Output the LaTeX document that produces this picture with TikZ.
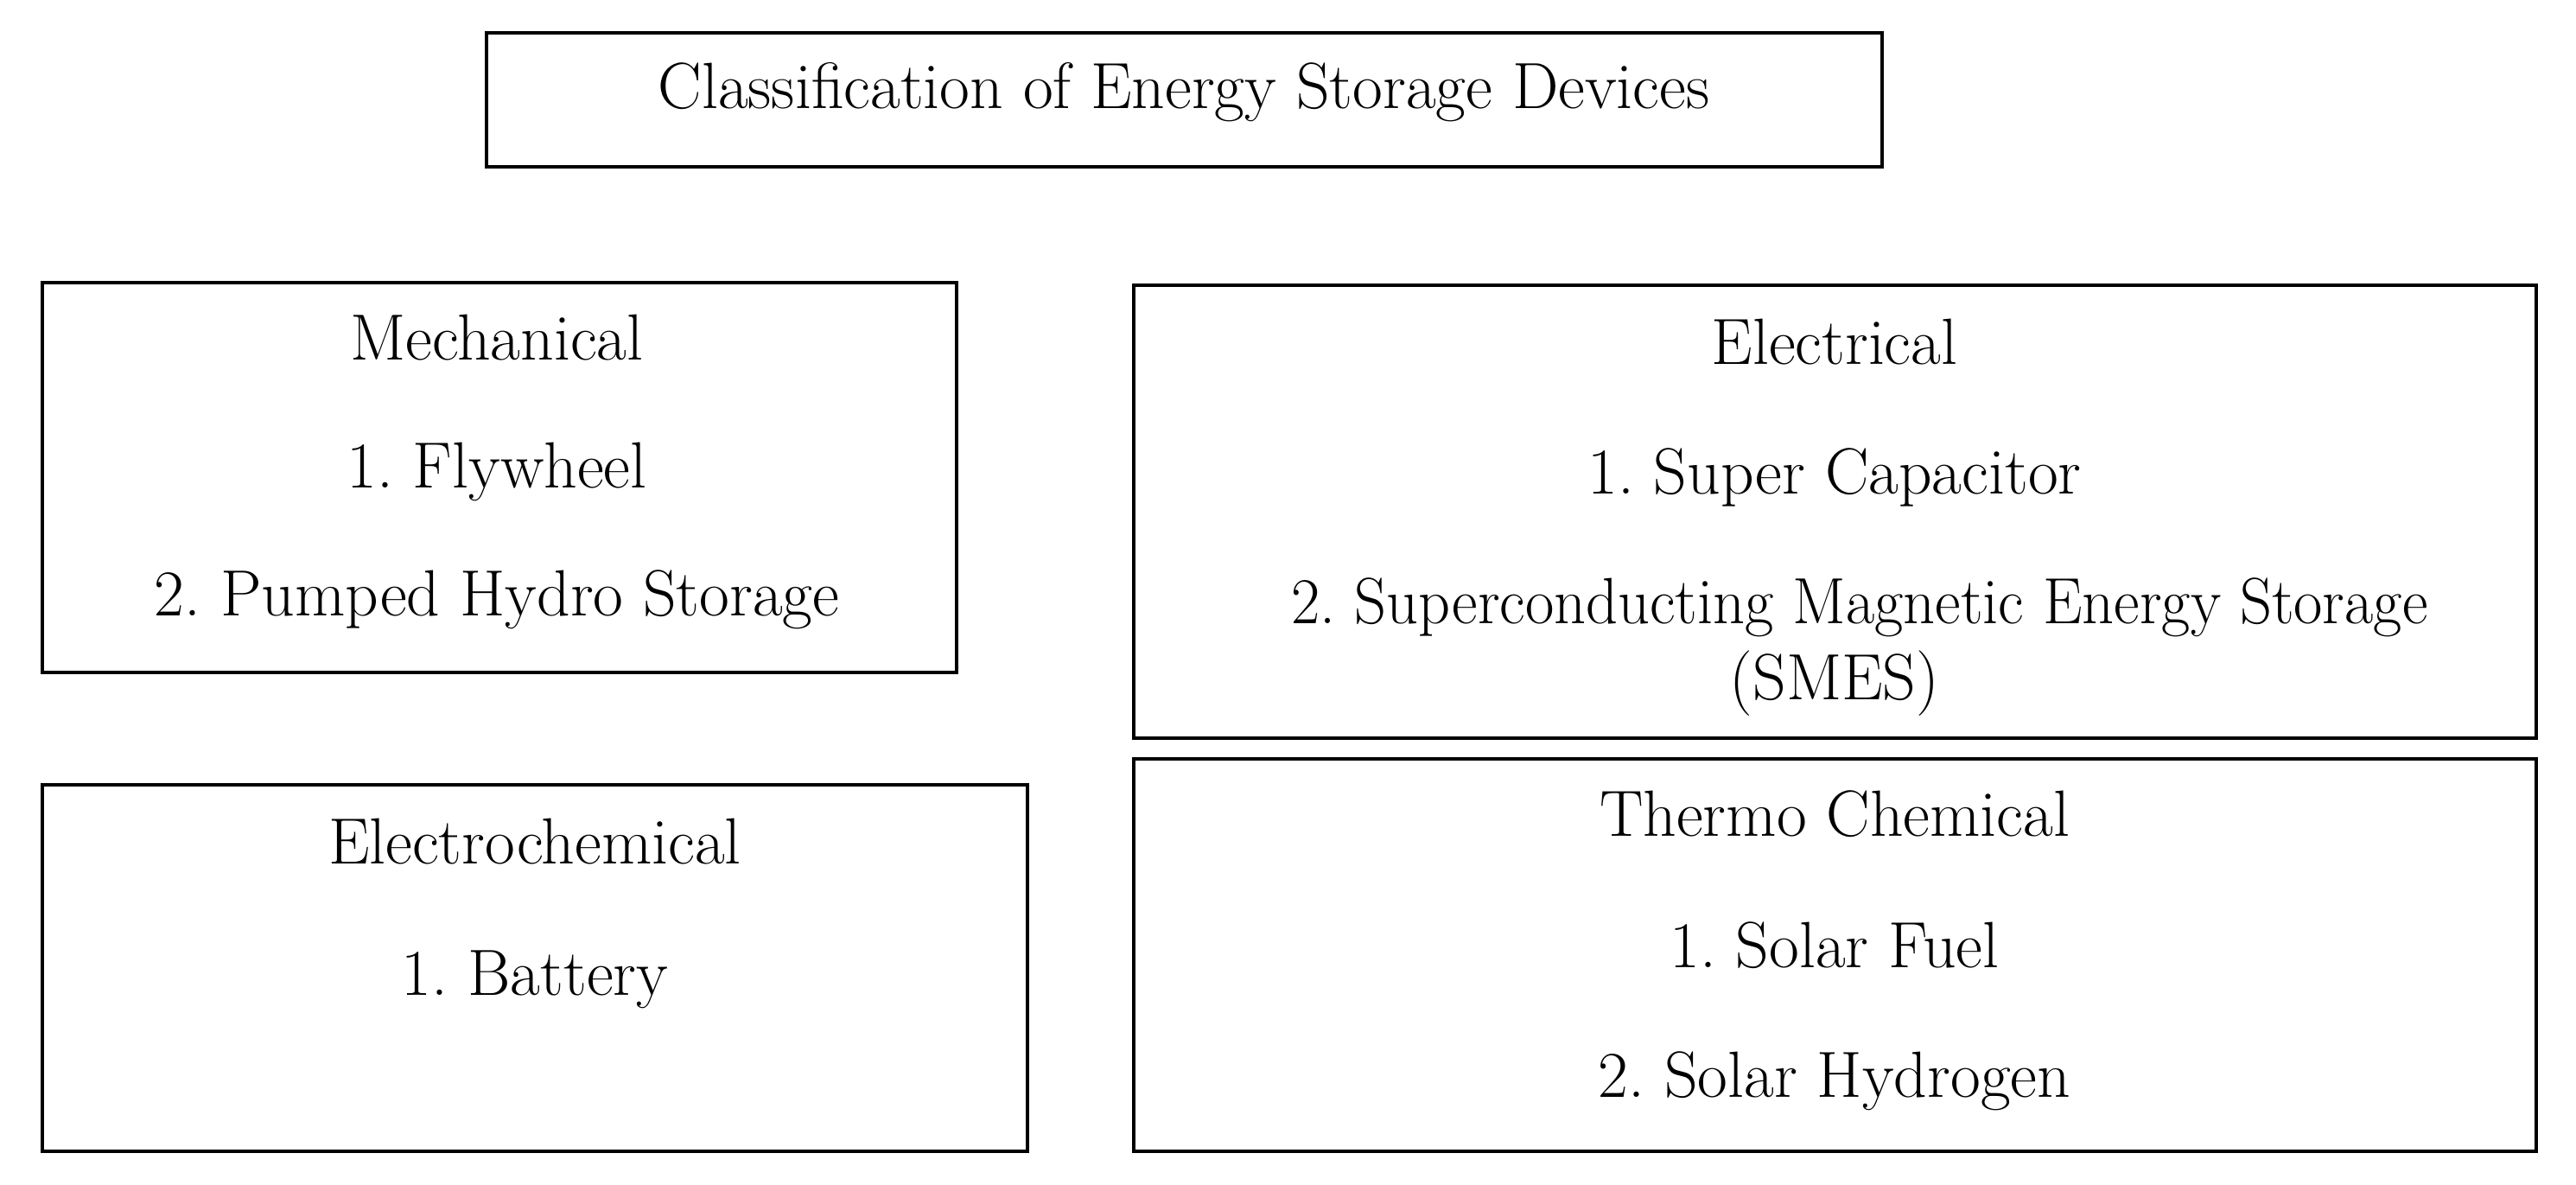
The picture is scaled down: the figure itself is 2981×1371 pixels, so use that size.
\documentclass[tikz,border=0pt]{standalone}
\begin{document}
\frenchspacing
\begin{tikzpicture}[x=0.01cm,y=-0.01cm,
  box/.style={draw=black,line width=0.9pt},
  txt/.style={anchor=base,inner sep=0pt,font=\fontsize{21.5}{26}\selectfont}]
\useasboundingbox (0,0) rectangle (2981,1371);
% boxes
\draw[box] (563,38) rectangle (2178,193) node[pos=0.5,inner sep=0] (titlebox) {};
\draw[box] (49,327) rectangle (1107,778) node[pos=0.5,inner sep=0] (mechbox) {};
\draw[box] (1312,330) rectangle (2935,854) node[pos=0.5,inner sep=0] (elecbox) {};
\draw[box] (49,908) rectangle (1189,1332) node[pos=0.5,inner sep=0] (echembox) {};
\draw[box] (1312,878) rectangle (2935,1332) node[pos=0.5,inner sep=0] (thermbox) {};
% texts
\node[txt] (title) at (1370,126) {Classification of Energy Storage Devices};
\node[txt] (mech) at (575,417) {Mechanical};
\node[txt] (mech1) at (575,565) {1. Flywheel};
\node[txt] (mech2) at (575,713) {2. Pumped Hydro Storage};
\node[txt] (elec) at (2123,422) {Electrical};
\node[txt] (elec1) at (2123,572) {1. Super Capacitor};
\node[txt,xscale=0.958] (elec2) at (2152,722) {2. Superconducting Magnetic Energy Storage};
\node[txt] (elec3) at (2123,810) {(SMES)};
\node[txt] (echem) at (619,1000) {Electrochemical};
\node[txt] (echem1) at (619,1152) {1. Battery};
\node[txt] (therm) at (2123,968) {Thermo Chemical};
\node[txt] (therm1) at (2123,1120) {1. Solar Fuel};
\node[txt] (therm2) at (2123,1270) {2. Solar Hydrogen};
\end{tikzpicture}
\end{document}
